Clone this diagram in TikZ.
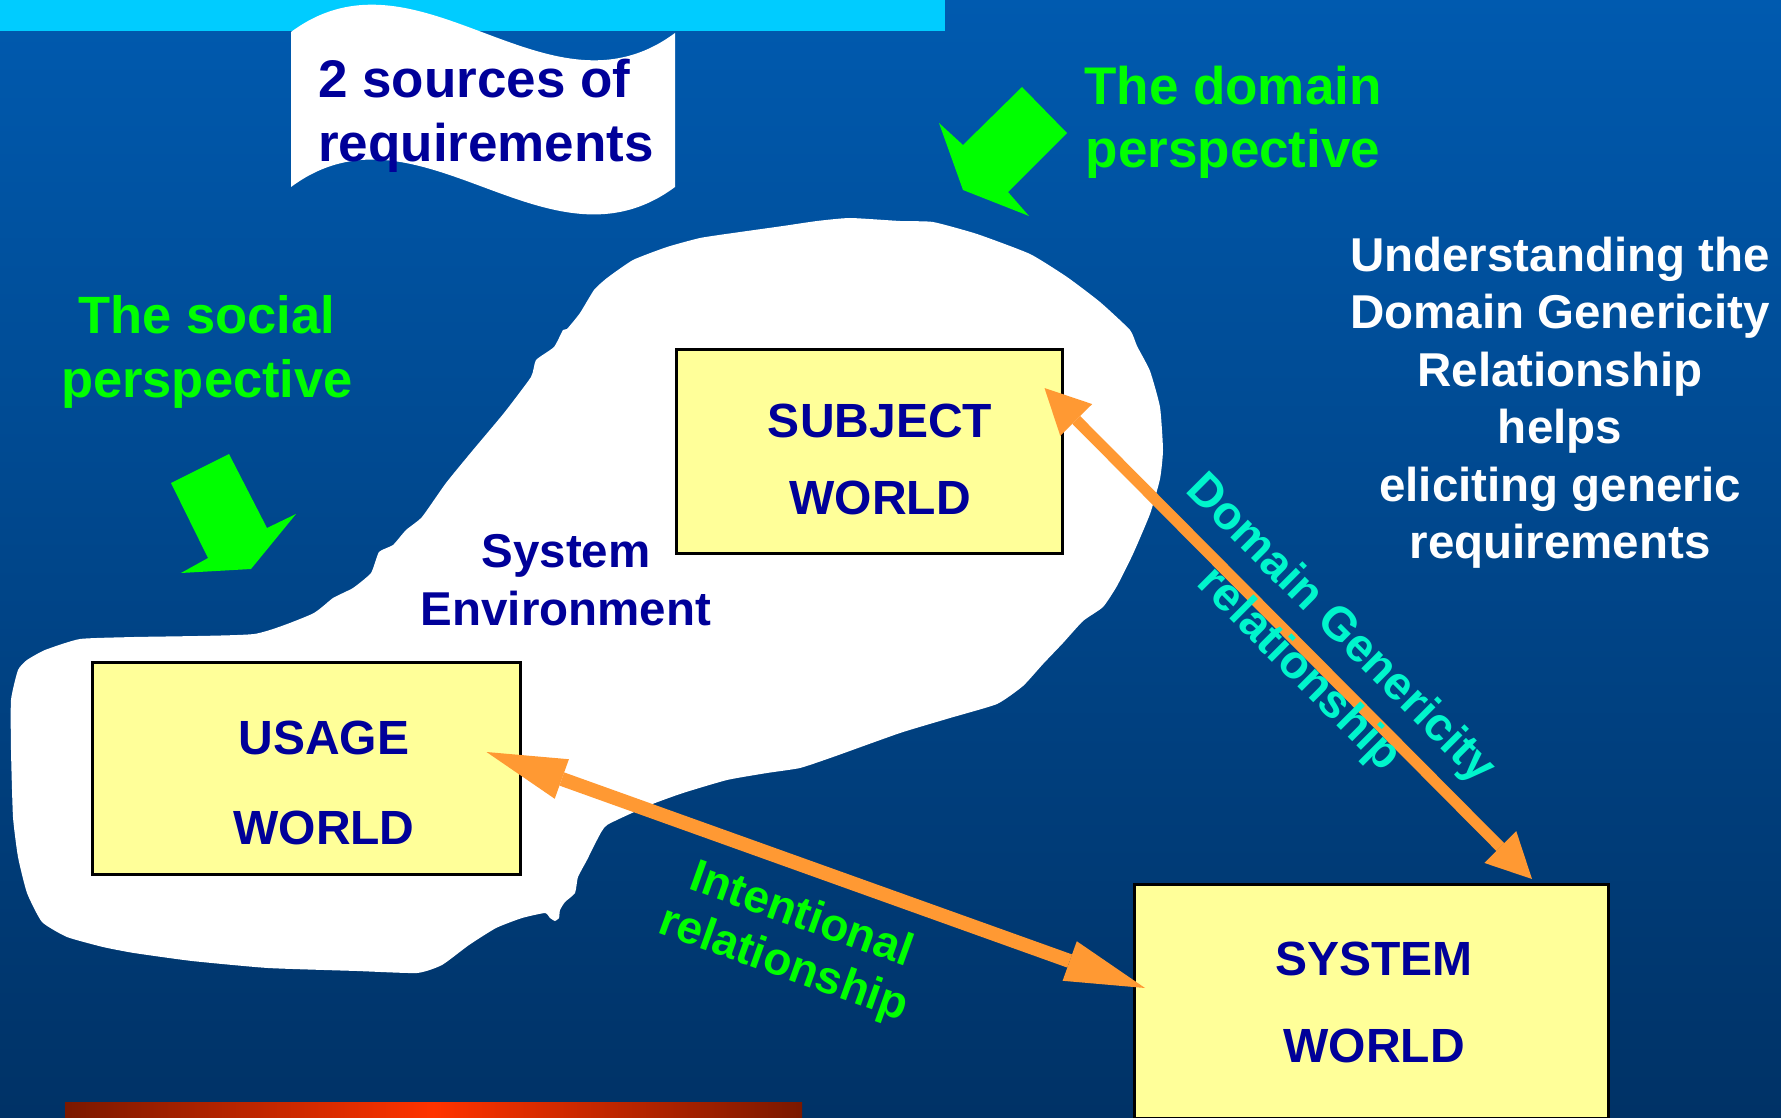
\documentclass[tikz,border=0pt]{standalone}
\usepackage{fontspec}
\setmainfont{Liberation Sans}
\usetikzlibrary{arrows.meta,calc}
\definecolor{bgtop}{RGB}{0,90,175}
\definecolor{bgbot}{RGB}{0,50,102}
\definecolor{barcyan}{RGB}{0,204,255}
\definecolor{navy}{RGB}{0,0,153}
\definecolor{boxyellow}{RGB}{255,255,153}
\definecolor{arroworange}{RGB}{255,153,51}
\definecolor{brightgreen}{RGB}{0,255,0}
\definecolor{turq}{RGB}{0,245,204}
\definecolor{reddark}{RGB}{122,24,0}
\definecolor{redbright}{RGB}{255,51,0}
\begin{document}
\begin{tikzpicture}[x=1pt,y=-1pt,
  txt/.style={inner sep=0pt, anchor=base, align=center},
  worldbox/.style={draw=black, line width=2.5pt, fill=boxyellow, inner sep=0pt, anchor=north west},
  worldtext/.style={txt, text=navy},
  domarrow/.style={draw=arroworange, line width=11pt,
    {Triangle[length=45pt,width=45pt,line width=0pt]}-{Triangle[length=45pt,width=45pt,line width=0pt]}},
  intarrow/.style={draw=arroworange, line width=14pt,
    {Triangle[length=80pt,width=42pt,line width=0pt]}-{Triangle[length=80pt,width=42pt,line width=0pt]}},
  blockarrow/.style={fill=brightgreen}
]
\useasboundingbox (0,0) rectangle (1781,1118);
% background
\shade[top color=bgtop, bottom color=bgbot] (0,0) rectangle (1781,1118);
\shade[left color=reddark, right color=reddark, middle color=redbright] (65,1102) rectangle (802,1118);
\fill[barcyan] (0,0) rectangle (945,31);
% banner
\fill[white] (291,32) .. controls (419,-63) and (547,128) .. (675,33) -- (675,187)
  .. controls (547,282) and (419,92) .. (291,187) -- cycle;
\node[txt, anchor=base west, align=left, text=navy, font=\bfseries\fontsize{53}{64}\selectfont] (sources) at (318,162) {2 sources of\\requirements};
% system environment blob
\fill[white] plot[smooth cycle, tension=0.3] coordinates {
(536,360) (554,347) (563,330) (567,329) (580,313) (594,290) (607,278) (633,260) (667,247) (700,238)
(733,233) (783,226) (817,221) (850,218) (900,221) (933,222) (977,234) (1030,254) (1067,277) (1100,302)
(1130,330) (1137,346) (1150,371) (1160,407) (1163,450) (1160,479) (1150,514) (1133,554) (1117,586) (1103,607)
(1083,621) (1063,643) (1043,664) (1023,686) (997,704) (950,718) (900,733) (833,757) (800,768) (767,773)
(727,780) (683,793) (650,805) (607,825) (597,840) (587,860) (578,877) (575,893) (565,902) (560,910)
(559,918) (555,921) (550,918) (545,913) (522,918) (496,928) (469,945) (442,965) (417,973) (357,971)
(268,968) (192,961) (134,953) (103,947) (67,937) (42,922) (27,893) (18,857) (13,817) (11,750)
(11,700) (18,670) (27,660) (45,650) (80,639) (134,637) (254,634) (312,614) (333,598) (353,588)
(371,573) (379,552) (393,545) (406,530) (422,517) (446,483) (473,450) (504,413) (531,377)};
% green block arrows
\fill[blockarrow] (939,123) -- (963,145) -- (1022,87) -- (1067,133) -- (1008,192) -- (1029,216) -- (963,190) -- cycle;
\fill[blockarrow] (171,483) -- (229,454) -- (267,528) -- (296,514) -- (251,569) -- (181,573) -- (208,558) -- cycle;
% texts (anchor base = baseline of the last line)
\node[txt, text=brightgreen, font=\bfseries\fontsize{53}{63}\selectfont] (domainp) at (1233,168) {The domain\\perspective};
\node[txt, text=brightgreen, font=\bfseries\fontsize{52.5}{64}\selectfont] (socialp) at (207,397) {The social\\perspective};
\node[txt, text=white, font=\bfseries\fontsize{47.5}{57.5}\selectfont] (underst) at (1560,558.5) {Understanding the\\Domain Genericity\\Relationship\\helps\\eliciting generic\\requirements};
\node[txt, text=navy, font=\bfseries\fontsize{47.5}{58}\selectfont] (sysenv) at (566,625) {System\\Environment};
% boxes
\node[worldbox, minimum width=386pt, minimum height=204pt] (subject) at (675,348) {};
\node[worldbox, minimum width=428pt, minimum height=212pt] (usage) at (91,661) {};
\node[worldbox, minimum width=474pt, minimum height=234pt] (system) at (1133,883) {};
\node[worldtext, font=\bfseries\fontsize{48}{76.5}\selectfont] (subjecttext) at (880,514) {SUBJECT\\WORLD};
\node[worldtext, font=\bfseries\fontsize{48}{90}\selectfont] (usagetext) at (324,844) {USAGE\\WORLD};
\node[worldtext, font=\bfseries\fontsize{48}{87}\selectfont] (systemtext) at (1374,1062) {SYSTEM\\WORLD};
% orange connectors
\coordinate (dgA) at ($(subject.north east)+(-19,40)$);
\coordinate (dgB) at ($(system.north west)+(399,-4)$);
\coordinate (inA) at ($(usage.north east)+(-35,91)$);
\coordinate (inB) at ($(system.north west)+(12,105)$);
\draw[domarrow] (dgA) -- (dgB);
\draw[intarrow] (inA) -- (inB);
% labels along connectors
\node[inner sep=0pt, align=center, rotate=-45, text=turq, font=\bfseries\fontsize{47}{58}\selectfont] (dglabel) at (1319,650) {Domain Genericity\\relationship};
\node[inner sep=0pt, align=center, rotate=-19.7, text=brightgreen, font=\bfseries\fontsize{46}{52}\selectfont] (inlabel) at (792,941) {Intentional\\relationship};
\end{tikzpicture}
\end{document}
